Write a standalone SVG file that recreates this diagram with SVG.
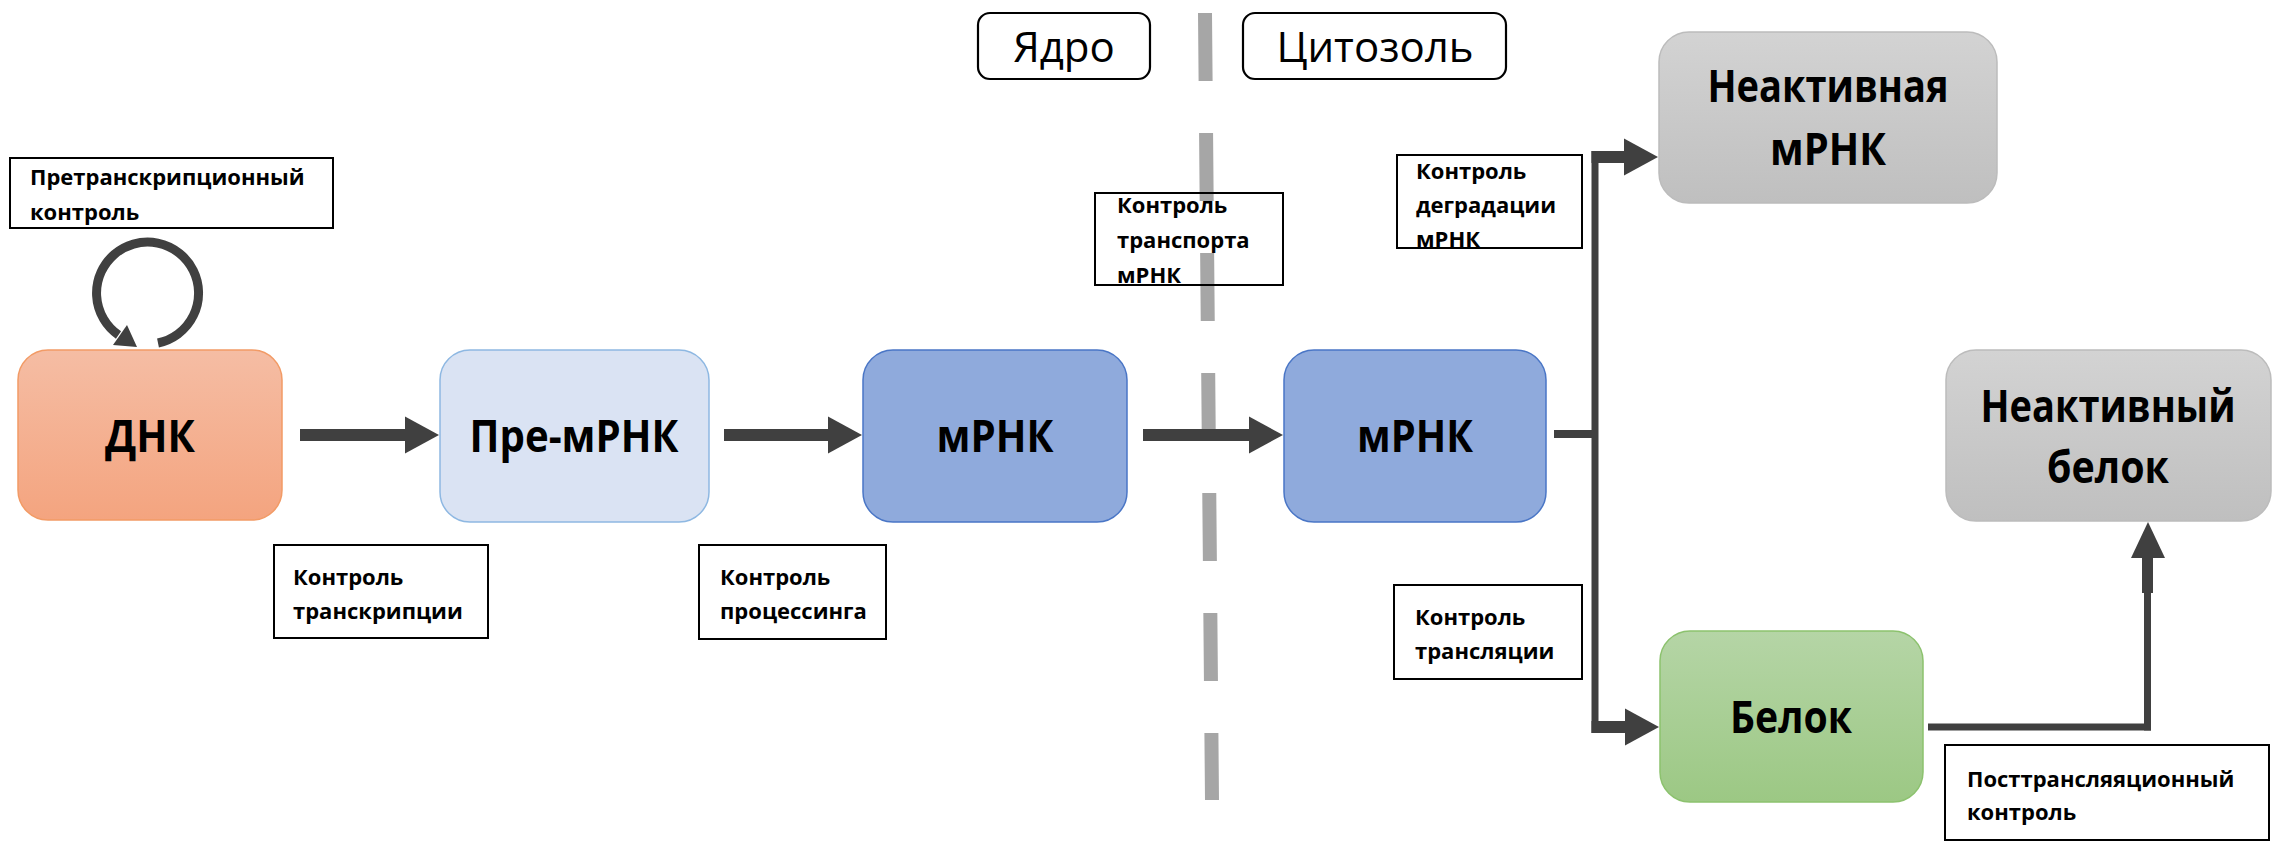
<svg xmlns="http://www.w3.org/2000/svg" width="2272" height="842" viewBox="0 0 2272 842">
<defs>
<linearGradient id="gDna" x1="0" y1="0" x2="0" y2="1"><stop offset="0" stop-color="#f5bda4"/><stop offset="1" stop-color="#f4a47f"/></linearGradient>
<linearGradient id="gGray" x1="0" y1="0" x2="0" y2="1"><stop offset="0" stop-color="#d3d3d3"/><stop offset="1" stop-color="#bfbfbf"/></linearGradient>
<linearGradient id="gGreen" x1="0" y1="0" x2="0" y2="1"><stop offset="0" stop-color="#b5d5a6"/><stop offset="1" stop-color="#9cc884"/></linearGradient>
</defs>
<style>
.node{stroke-width:1.5}
.nt{font-family:"Open Sans","Liberation Sans",sans-serif;font-weight:bold;font-size:44px;fill:#000;text-anchor:middle}
.lbl{fill:none;stroke:#000;stroke-width:2}
.lt{font-family:"Open Sans","Liberation Sans",sans-serif;font-weight:bold;font-size:22px;fill:#000}
.reg{fill:#fff;stroke:#000;stroke-width:2.2}
.rt{font-family:"Open Sans","Liberation Sans",sans-serif;font-size:42px;fill:#000;text-anchor:middle}
.ar{fill:#404040;stroke:none}
</style>
<rect width="2272" height="842" fill="#fff"/>

<g id="divider">
<line x1="1205" y1="13" x2="1212" y2="800" stroke="#a6a6a6" stroke-width="14" stroke-dasharray="68 52"/>
</g>

<g id="region-nucleus">
<rect class="reg" x="978" y="13" width="172" height="66" rx="12"/>
<text class="rt" x="1064" y="62">Ядро</text>
</g>
<g id="region-cytosol">
<rect class="reg" x="1243" y="13" width="263" height="66" rx="12"/>
<text class="rt" x="1375" y="62">Цитозоль</text>
</g>

<g id="node-dna">
<rect class="node" x="18" y="350" width="264" height="170" rx="30" fill="url(#gDna)" stroke="#f29b66"/>
<text class="nt" x="150" y="452" textLength="90" lengthAdjust="spacingAndGlyphs">ДНК</text>
</g>
<g id="node-pre-mrna">
<rect class="node" x="440" y="350" width="269" height="172" rx="30" fill="#dae3f3" stroke="#8eb8e2"/>
<text class="nt" x="574" y="452" textLength="209" lengthAdjust="spacingAndGlyphs">Пре-мРНК</text>
</g>
<g id="node-mrna-nucleus">
<rect class="node" x="863" y="350" width="264" height="172" rx="30" fill="#8faadc" stroke="#4a76c6"/>
<text class="nt" x="995" y="452" textLength="117" lengthAdjust="spacingAndGlyphs">мРНК</text>
</g>
<g id="node-mrna-cytosol">
<rect class="node" x="1284" y="350" width="262" height="172" rx="30" fill="#8faadc" stroke="#4a76c6"/>
<text class="nt" x="1415" y="452" textLength="116" lengthAdjust="spacingAndGlyphs">мРНК</text>
</g>
<g id="node-inactive-mrna">
<rect class="node" x="1659" y="32" width="338" height="171" rx="30" fill="url(#gGray)" stroke="#bcbcbc"/>
<text class="nt" x="1828" y="102" textLength="241" lengthAdjust="spacingAndGlyphs">Неактивная</text>
<text class="nt" x="1828" y="165" textLength="116" lengthAdjust="spacingAndGlyphs">мРНК</text>
</g>
<g id="node-inactive-protein">
<rect class="node" x="1946" y="350" width="325" height="171" rx="30" fill="url(#gGray)" stroke="#bcbcbc"/>
<text class="nt" x="2108" y="422" textLength="255" lengthAdjust="spacingAndGlyphs">Неактивный</text>
<text class="nt" x="2108" y="483" textLength="122" lengthAdjust="spacingAndGlyphs">белок</text>
</g>
<g id="node-protein">
<rect class="node" x="1660" y="631" width="263" height="171" rx="30" fill="url(#gGreen)" stroke="#8cc26e"/>
<text class="nt" x="1791" y="733" textLength="122" lengthAdjust="spacingAndGlyphs">Белок</text>
</g>

<g id="connectors">
<path d="M158 343 A51 51 0 1 0 118.5 335" fill="none" stroke="#404040" stroke-width="9"/>
<polygon class="ar" points="137,347 113,345 127,325"/>
<rect class="ar" x="300" y="429" width="106" height="12"/>
<polygon class="ar" points="405,416.5 439,435 405,453.5"/>
<rect class="ar" x="724" y="429" width="105" height="12"/>
<polygon class="ar" points="828,416.5 862,435 828,453.5"/>
<rect class="ar" x="1143" y="429" width="107" height="12"/>
<polygon class="ar" points="1249,416.5 1283,435 1249,453.5"/>
<rect class="ar" x="1554" y="430" width="41" height="8"/>
<rect class="ar" x="1591.5" y="151" width="7" height="582"/>
<rect class="ar" x="1591.5" y="151" width="34" height="12"/>
<polygon class="ar" points="1624,138.5 1658,157 1624,175.5"/>
<rect class="ar" x="1591.5" y="721" width="35" height="12"/>
<polygon class="ar" points="1625,708.5 1659,727 1625,745.5"/>
<rect class="ar" x="1928" y="723.5" width="223" height="7"/>
<rect class="ar" x="2144" y="590" width="7" height="140.5"/>
<rect class="ar" x="2142" y="556" width="11" height="37"/>
<polygon class="ar" points="2131,558 2148,522 2165,558"/>
</g>

<g id="label-pretranscription">
<rect class="lbl" x="10" y="158" width="323" height="70"/>
<text class="lt" x="30" y="185">Претранскрипционный</text>
<text class="lt" x="30" y="220">контроль</text>
</g>
<g id="label-transcription">
<rect class="lbl" x="274" y="545" width="214" height="93"/>
<text class="lt" x="293" y="585">Контроль</text>
<text class="lt" x="293" y="619">транскрипции</text>
</g>
<g id="label-processing">
<rect class="lbl" x="699" y="545" width="187" height="94"/>
<text class="lt" x="720" y="585">Контроль</text>
<text class="lt" x="720" y="619">процессинга</text>
</g>
<g id="label-transport">
<rect class="lbl" x="1095" y="193" width="188" height="92"/>
<text class="lt" x="1117" y="213">Контроль</text>
<text class="lt" x="1117" y="248">транспорта</text>
<text class="lt" x="1117" y="283">мРНК</text>
</g>
<g id="label-degradation">
<rect class="lbl" x="1397" y="155" width="185" height="93"/>
<text class="lt" x="1416" y="179">Контроль</text>
<text class="lt" x="1416" y="213">деградации</text>
<text class="lt" x="1416" y="247">мРНК</text>
</g>
<g id="label-translation">
<rect class="lbl" x="1394" y="585" width="188" height="94"/>
<text class="lt" x="1415" y="625">Контроль</text>
<text class="lt" x="1415" y="659">трансляции</text>
</g>
<g id="label-posttranslation">
<rect class="lbl" x="1945" y="745" width="324" height="95"/>
<text class="lt" x="1967" y="787">Посттрансляяционный</text>
<text class="lt" x="1967" y="820">контроль</text>
</g>
</svg>
